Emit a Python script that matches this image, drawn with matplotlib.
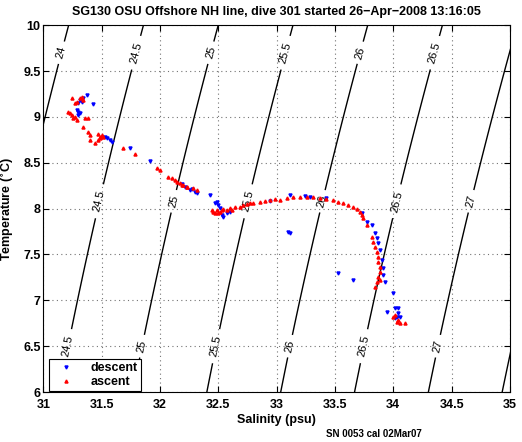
import numpy as np
import matplotlib
matplotlib.use('Agg')
import matplotlib.pyplot as plt

# descent (blue) samples
desc_s = [31.372, 31.343, 31.329, 31.314, 31.300, 31.428, 31.286, 31.300, 31.314, 31.300,
          31.528, 31.543, 31.571, 31.586, 31.743, 31.914, 32.186, 32.214, 32.257, 32.300,
          32.271, 32.314, 32.428, 32.471, 32.485, 32.499, 32.514, 32.528, 32.542, 32.571,
          32.599, 32.942, 33.113, 33.242, 33.285, 33.420, 33.099, 33.113,
          33.729, 33.772, 33.815, 33.843, 33.858, 33.872, 33.886, 33.900, 33.914, 33.914,
          33.929, 33.529, 33.658, 34.000, 33.943, 34.014, 34.042, 34.042, 34.028, 34.014,
          34.057]
desc_t = [9.237, 9.201, 9.164, 9.183, 9.147, 9.139, 9.074, 9.055, 9.038, 9.019,
          8.783, 8.765, 8.747, 8.728, 8.656, 8.521, 8.267, 8.231, 8.202, 8.183,
          8.209, 8.165, 8.147, 8.057, 8.074, 8.038, 8.002, 7.929, 7.911, 7.948,
          7.965, 8.085, 8.147, 8.136, 8.129, 8.115, 7.747, 7.736,
          7.948, 7.856, 7.820, 7.729, 7.675, 7.621, 7.548, 7.439, 7.348, 7.275,
          7.202, 7.300, 7.221, 7.082, 6.875, 6.912, 6.912, 6.858, 6.821, 6.803,
          6.821]

# ascent (red) samples
asc_s = [31.243, 31.272, 31.286, 31.314, 31.329, 31.343, 31.214, 31.229, 31.243, 31.257,
         31.272, 31.286, 31.357, 31.385, 31.343, 31.385, 31.400, 31.471, 31.486, 31.500,
         31.514, 31.400, 31.443, 31.471, 31.486, 31.685, 31.785, 31.971, 31.999, 32.071,
         32.100, 32.128, 32.143, 32.171, 32.200, 32.228, 32.285, 32.314, 32.188, 32.228,
         32.442, 32.456, 32.471, 32.485, 32.499, 32.514, 32.528, 32.542, 32.571, 32.599,
         32.614, 32.642, 32.685, 32.713, 32.742, 32.771, 32.799, 32.857, 32.899, 32.942,
         32.985, 33.027, 33.085, 33.141, 33.199, 33.256, 33.313, 33.370, 33.427, 33.484,
         33.529, 33.572, 33.615, 33.658, 33.686, 33.714, 33.729, 33.743, 33.772, 33.815,
         33.829, 33.843, 33.858, 33.872, 33.872, 33.886, 33.886, 33.872, 33.858, 33.843,
         33.886, 34.014, 34.028, 34.057, 34.042, 34.100, 34.000]
asc_t = [9.201, 9.147, 9.164, 9.201, 9.219, 9.183, 9.055, 9.038, 9.019, 8.983,
         9.001, 8.965, 8.983, 8.983, 8.892, 8.837, 8.801, 8.819, 8.783, 8.801,
         8.783, 8.747, 8.711, 8.747, 8.765, 8.656, 8.594, 8.438, 8.420, 8.347,
         8.329, 8.311, 8.292, 8.275, 8.256, 8.238, 8.220, 8.202, 8.256, 8.238,
         7.984, 7.965, 7.948, 7.984, 7.955, 7.965, 7.984, 7.991, 7.984, 8.002,
         7.984, 8.020, 8.020, 8.038, 8.049, 8.057, 8.063, 8.074, 8.085, 8.093,
         8.100, 8.093, 8.111, 8.122, 8.129, 8.129, 8.122, 8.111, 8.100, 8.093,
         8.074, 8.057, 8.038, 8.020, 7.991, 7.965, 7.929, 7.893, 7.820, 7.693,
         7.638, 7.584, 7.529, 7.475, 7.420, 7.366, 7.311, 7.257, 7.202, 7.148,
         7.221, 6.839, 6.766, 6.749, 6.785, 6.756, 6.821]

sigma_levels = [24, 24.5, 25, 25.5, 26, 26.5, 27, 27.5]
label_temps = [9.7, 8.08, 6.5]


def sigma_t(s, t):
    # UNESCO 1981 density at zero pressure, minus 1000
    rw = (999.842594 + 6.793952e-2 * t - 9.095290e-3 * t**2 + 1.001685e-4 * t**3
          - 1.120083e-6 * t**4 + 6.536332e-9 * t**5)
    b = 8.24493e-1 - 4.0899e-3 * t + 7.6438e-5 * t**2 - 8.2467e-7 * t**3 + 5.3875e-9 * t**4
    c = -5.72466e-3 + 1.0227e-4 * t - 1.6546e-6 * t**2
    return rw + b * s + c * s**1.5 + 4.8314e-4 * s**2 - 1000


plt.rcParams['font.family'] = ['Liberation Sans', 'DejaVu Sans']
plt.rcParams['font.weight'] = 'bold'

fig = plt.figure(figsize=(5.22, 4.42), dpi=100)
ax = fig.add_axes([0.083, 0.113, 0.894, 0.830])

sg, tg = np.meshgrid(np.linspace(30.5, 35.5, 200), np.linspace(5.5, 10.5, 200))
cs = ax.contour(sg, tg, sigma_t(sg, tg), levels=sigma_levels, colors='k', linewidths=1.0)

# label spots taken from the contour paths at a few temperatures
spots = []
for segs in cs.allsegs:
    if len(segs) == 0:
        continue
    v = segs[0]
    order = np.argsort(v[:, 1])
    for tt in label_temps:
        ss = np.interp(tt, v[order, 1], v[order, 0])
        if 31.02 < ss < 34.99:
            spots.append((ss, tt))
labs = ax.clabel(cs, manual=spots, inline=True, inline_spacing=3, fmt='%g', fontsize=8)
for lb in labs:
    lb.set_fontweight('normal')

ax.plot(desc_s, desc_t, 'v', color='b', markersize=2.2, linestyle='none', label='descent', zorder=5)
ax.plot(asc_s, asc_t, '^', color='r', markersize=2.2, linestyle='none', label='ascent', zorder=5)

ax.set_xlim(31, 35)
ax.set_ylim(6, 10)
ax.set_xticks(np.arange(31, 35.01, 0.5))
ax.set_yticks(np.arange(6, 10.01, 0.5))
ax.set_xticklabels(['%g' % v for v in np.arange(31, 35.01, 0.5)])
ax.set_yticklabels(['%g' % v for v in np.arange(6, 10.01, 0.5)])
ax.tick_params(direction='in', top=True, right=True, labelsize=9, length=4, pad=2)
ax.tick_params(axis='x', pad=5)
ax.grid(True, linestyle=(0, (1, 3)), color='0.45', linewidth=0.8)

ax.set_title('SG130 OSU Offshore NH line, dive 301 started 26\u2212Apr\u22122008 13:16:05',
             fontsize=9, fontweight='bold', pad=7)
ax.set_xlabel('Salinity (psu)', fontsize=9, fontweight='bold', labelpad=2)
ax.set_ylabel('Temperature ($^{\\circ}$C)', fontsize=9, fontweight='bold')
ax.yaxis.set_label_coords(-0.058, 0.5)
fig.text(0.625, 0.012, 'SN 0053 cal 02Mar07', fontsize=7, fontweight='bold')

leg = ax.legend(loc='lower left', bbox_to_anchor=(0.012, 0.002), fontsize=9, fancybox=False,
                framealpha=1, edgecolor='k', borderaxespad=0, handletextpad=0.9, handlelength=2.2,
                borderpad=0.25, labelspacing=0.15)
leg.get_frame().set_linewidth(0.8)

plt.savefig('out.png', dpi=100)
